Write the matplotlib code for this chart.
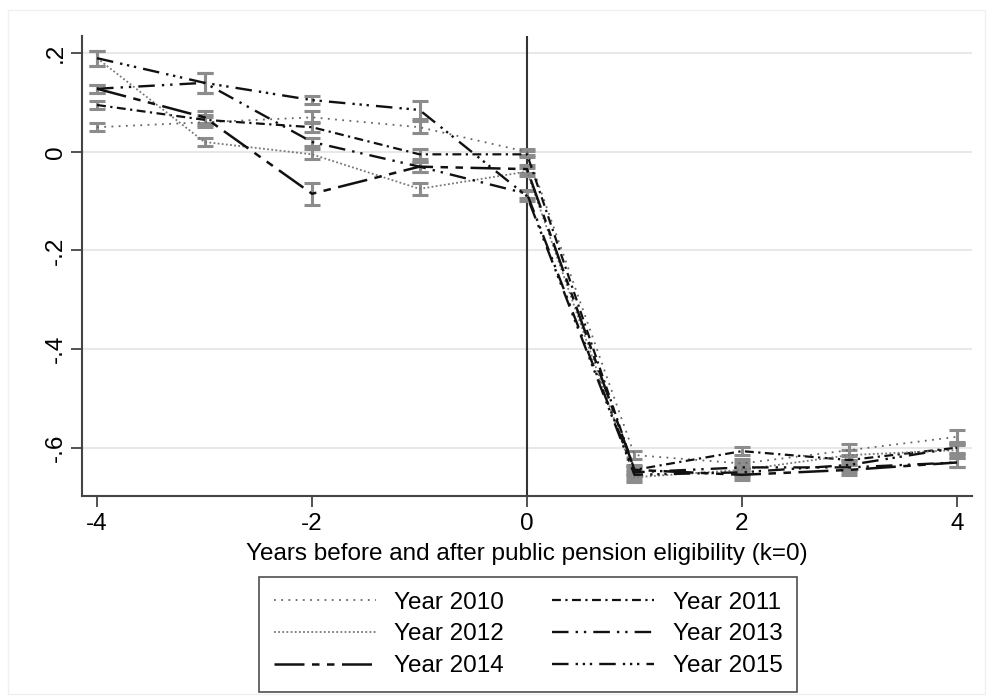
import matplotlib
matplotlib.use("Agg")
import matplotlib.pyplot as plt
from matplotlib.patches import Rectangle

k = [-4, -3, -2, -1, 0, 1, 2, 3, 4]
labels = ["Year 2010", "Year 2011", "Year 2012", "Year 2013", "Year 2014", "Year 2015"]

y2010 = [0.050, 0.060, 0.070, 0.050, 0.000, -0.615, -0.632, -0.605, -0.578]
y2011 = [0.095, 0.065, 0.050, -0.005, -0.005, -0.645, -0.607, -0.625, -0.600]
y2012 = [0.190, 0.020, -0.005, -0.075, -0.040, -0.660, -0.645, -0.615, -0.605]
y2013 = [0.128, 0.140, 0.020, -0.030, -0.085, -0.650, -0.640, -0.640, -0.630]
y2014 = [0.128, 0.070, -0.085, -0.030, -0.035, -0.645, -0.655, -0.645, -0.630]
y2015 = [0.190, 0.140, 0.105, 0.085, -0.090, -0.655, -0.650, -0.635, -0.600]

e2010 = [0.008, 0.010, 0.012, 0.012, 0.006, 0.008, 0.010, 0.012, 0.014]
e2011 = [0.008, 0.010, 0.010, 0.010, 0.006, 0.008, 0.008, 0.010, 0.010]
e2012 = [0.015, 0.008, 0.010, 0.012, 0.008, 0.010, 0.010, 0.010, 0.010]
e2013 = [0.008, 0.020, 0.008, 0.010, 0.008, 0.010, 0.010, 0.010, 0.010]
e2014 = [0.008, 0.012, 0.022, 0.010, 0.008, 0.010, 0.010, 0.010, 0.010]
e2015 = [0.015, 0.020, 0.008, 0.018, 0.010, 0.010, 0.010, 0.010, 0.012]

series = [y2010, y2011, y2012, y2013, y2014, y2015]
errors = [e2010, e2011, e2012, e2013, e2014, e2015]
styles = [
    dict(color="#666666", lw=1.3, ls=(0, (1, 3))),
    dict(color="#111111", lw=1.6, ls=(0, (4, 2, 1, 2))),
    dict(color="#777777", lw=1.3, ls=(0, (1, 1.3))),
    dict(color="#111111", lw=1.7, ls=(0, (7, 3, 1, 2.5, 1, 3))),
    dict(color="#111111", lw=1.8, ls=(0, (12, 3, 3, 3, 3, 3))),
    dict(color="#111111", lw=1.7, ls=(0, (7, 3, 1, 2, 1, 2, 1, 3))),
]

plt.rcParams["font.family"] = ["Liberation Sans", "DejaVu Sans"]
FS = 17.5

fig = plt.figure(figsize=(9.92, 6.98), dpi=100)
fig.patches.append(Rectangle((8 / 992, 4 / 698), 977 / 992, 684 / 698, transform=fig.transFigure,
                             fill=False, edgecolor="#f0f0f0", lw=1.0))
ax = fig.add_axes([82 / 992, 1 - 496 / 698, (972 - 82) / 992, (496 - 36) / 698])

yticks = [-0.6, -0.4, -0.2, 0, 0.2]
ytlabels = ["-.6", "-.4", "-.2", "0", ".2"]
ax.set_ylim(-0.698, 0.235)
ax.set_xlim(-4.14, 4.14)
for yt in yticks:
    ax.axhline(yt, color="#e8e8e8", lw=1.5, zorder=0)
ax.axvline(0, color="#333333", lw=1.5, zorder=1)

for ys, es in zip(series, errors):
    ax.errorbar(k, ys, yerr=es, fmt="none", ecolor="#8c8c8c", elinewidth=2.2,
                capsize=6, capthick=2.2, zorder=2)
handles = []
for ys, st, lab in zip(series, styles, labels):
    h, = ax.plot(k, ys, label=lab, zorder=3, **st)
    handles.append(h)

ax.set_yticks(yticks)
ax.set_yticklabels(ytlabels, rotation=90, va="center")
ax.set_xticks([-4, -2, 0, 2, 4])
ax.set_xticklabels(["-4", "-2", "0", "2", "4"])
ax.tick_params(axis="both", labelsize=FS, length=8, width=1.3, color="#444444", direction="out")
ax.tick_params(axis="y", pad=3)
ax.tick_params(axis="x", pad=4)
for s in ["top", "right"]:
    ax.spines[s].set_visible(False)
for s in ["left", "bottom"]:
    ax.spines[s].set_color("#444444")
    ax.spines[s].set_linewidth(1.5)
ax.set_xlabel("Years before and after public pension eligibility (k=0)", fontsize=FS, labelpad=6)

order = [0, 2, 4, 1, 3, 5]
leg = fig.legend([handles[i] for i in order], [labels[i] for i in order], ncol=2,
                 loc="upper center", bbox_to_anchor=(528 / 992, 1 - 577 / 698),
                 borderaxespad=0.0,
                 fontsize=FS, frameon=True, fancybox=False, handlelength=4.2,
                 columnspacing=2.0, labelspacing=0.4, handletextpad=0.75, borderpad=0.6)
leg.get_frame().set_edgecolor("#222222")
leg.get_frame().set_linewidth(1.2)

fig.savefig("out.png", dpi=100)
